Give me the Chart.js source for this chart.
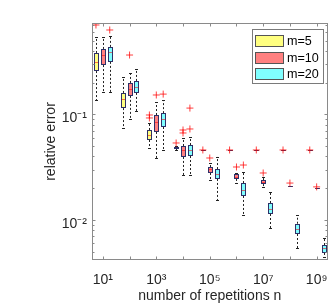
<!DOCTYPE html>
<html><head><meta charset="utf-8">
<script src="https://cdn.jsdelivr.net/npm/chart.js@4.4.1/dist/chart.umd.min.js"></script>
<style>html,body{margin:0;padding:0;background:#fff;}canvas{display:block;}</style>
</head><body>
<canvas id="c" width="332" height="307"></canvas>
<script>
// ---------- data ----------
const repetitions = [1e1, 1e2, 1e3, 1e4, 1e5, 1e6, 1e7, 1e8, 1e9];
const seriesLabels = ['m=5', 'm=10', 'm=20'];
const xTickValues = [1e1, 1e3, 1e5, 1e7, 1e9];
const xTickLabels = ['10¹', '10³', '10⁵', '10⁷', '10⁹'];
const yTickValues = [1e-2, 1e-1];
const yTickLabels = ['10⁻²', '10⁻¹'];

// box statistics per n: [lower whisker, Q1, median, Q3, upper whisker]
const m5Boxes = [
  [0.137, 0.258, 0.315, 0.383, 0.543],
  [0.0745, 0.115, 0.140, 0.160, 0.226],
  [0.0481, 0.0573, 0.0639, 0.0713, 0.0831],
  [0.0461, 0.0471, 0.0481, 0.0492, 0.0503],
  [0.0461, 0.0461, 0.0461, 0.0461, 0.0461],
  [0.0461, 0.0461, 0.0461, 0.0461, 0.0461],
  [0.0461, 0.0461, 0.0461, 0.0461, 0.0461],
  [0.0461, 0.0461, 0.0461, 0.0461, 0.0461],
  [0.0461, 0.0461, 0.0461, 0.0461, 0.0461]
];
const m10Boxes = [
  [0.163, 0.294, 0.366, 0.418, 0.543],
  [0.0906, 0.150, 0.175, 0.199, 0.247],
  [0.0387, 0.0683, 0.0849, 0.0989, 0.131],
  [0.0267, 0.0396, 0.0461, 0.0503, 0.0599],
  [0.0239, 0.0279, 0.0304, 0.0318, 0.0347],
  [0.0224, 0.0245, 0.0256, 0.0273, 0.0279],
  [0.0206, 0.0219, 0.0229, 0.0239, 0.0256],
  [0.0210, 0.0210, 0.0210, 0.0210, 0.0210],
  [0.0203, 0.0203, 0.0203, 0.0203, 0.0203]
];
const m20Boxes = [
  [0.163, 0.315, 0.391, 0.437, 0.555],
  [0.108, 0.160, 0.183, 0.208, 0.270],
  [0.0461, 0.0761, 0.0906, 0.103, 0.137],
  [0.0267, 0.0404, 0.0461, 0.0514, 0.0612],
  [0.0155, 0.0245, 0.0273, 0.0304, 0.0396],
  [0.01115, 0.0169, 0.0193, 0.0224, 0.0285],
  [0.0084, 0.0114, 0.0127, 0.0145, 0.0184],
  [0.00543, 0.00737, 0.00822, 0.00922, 0.01115],
  [0.00446, 0.00487, 0.00543, 0.00579, 0.00675]
];
// outliers per n
const m5Outliers = [[0.705], [], [0.0989, 0.0927], [0.0537], [0.0461], [0.0461], [0.0461], [0.0461], [0.0461]];
const m10Outliers = [[], [0.366], [0.153], [0.0713, 0.0668], [0.0387], [0.0318], [0.0279], [0.0224], [0.0206]];
const m20Outliers = [[0.632], [], [0.156], [0.115, 0.0729], [], [0.0332], [], [], []];

// ---------- styling ----------
const allBoxes = [m5Boxes, m10Boxes, m20Boxes];
const allOutliers = [m5Outliers, m10Outliers, m20Outliers];
const fills = ['#ffff80', '#ff8080', '#80ffff'];
const groupShift = [-0.258, 0, 0.258]; // horizontal offset of each series, in decades
const FONT = "'Liberation Sans', Arial, Helvetica, sans-serif";
const TXT = '#262626';
const AXIS = '#8a8a8a';

const shiftX = (n, s) => n * Math.pow(10, groupShift[s]);

const datasets = allOutliers.map((outl, s) => ({
  label: seriesLabels[s],
  data: outl.flatMap((vals, i) => vals.map(v => ({ x: shiftX(repetitions[i], s), y: v }))),
  pointStyle: 'cross',
  pointRadius: 3.5,
  pointHoverRadius: 3.5,
  borderColor: 'rgba(255,0,0,0.75)',
  backgroundColor: 'rgba(0,0,0,0)',
  borderWidth: 1,
  showLine: false
}));

const boxPlugin = {
  id: 'boxes',
  beforeDatasetsDraw(chart) {
    const { ctx, chartArea: a, scales: { x, y } } = chart;
    ctx.save();
    ctx.beginPath(); ctx.rect(a.left, a.top, a.right - a.left, a.bottom - a.top); ctx.clip();
    allBoxes.forEach((boxes, s) => {
      boxes.forEach((b, i) => {
        const pc = Math.round(x.getPixelForValue(shiftX(repetitions[i], s)));
        const [lo, q1, med, q3, hi] = b.map(v => y.getPixelForValue(v));
        const cx = pc + 0.5;
        ctx.lineWidth = 1;
        // whiskers
        ctx.strokeStyle = '#222';
        ctx.setLineDash([2, 2]);
        ctx.beginPath();
        ctx.moveTo(cx, q3); ctx.lineTo(cx, hi);
        ctx.moveTo(cx, q1); ctx.lineTo(cx, lo);
        ctx.stroke();
        ctx.setLineDash([]);
        ctx.beginPath();
        ctx.moveTo(pc - 1, Math.round(hi) + 0.5); ctx.lineTo(pc + 2, Math.round(hi) + 0.5);
        ctx.moveTo(pc - 1, Math.round(lo) + 0.5); ctx.lineTo(pc + 2, Math.round(lo) + 0.5);
        ctx.stroke();
        // box
        const top = Math.round(q3), bot = Math.round(q1);
        ctx.fillStyle = fills[s];
        ctx.fillRect(pc - 2, top, 5, Math.max(bot - top, 1));
        // median
        ctx.strokeStyle = 'rgba(255,0,0,0.55)';
        ctx.beginPath();
        ctx.moveTo(pc - 2, Math.round(med) + 0.5); ctx.lineTo(pc + 3, Math.round(med) + 0.5);
        ctx.stroke();
        // outline
        ctx.strokeStyle = '#2e3068';
        ctx.strokeRect(pc - 1.5, top + 0.5, 4, Math.max(bot - top - 1, 0));
      });
    });
    ctx.restore();
  },
  afterDraw(chart) {
    const { ctx, chartArea: a, scales: { x, y } } = chart;
    ctx.save();
    ctx.strokeStyle = AXIS;
    ctx.lineWidth = 1;
    const L = Math.floor(a.left) + 0.5, R = Math.ceil(a.right) - 0.5;
    const T = Math.floor(a.top) + 0.5, B = Math.ceil(a.bottom) - 0.5;
    ctx.strokeRect(L, T, R - L, B - T);
    ctx.beginPath();
    // x ticks at every decade
    for (let e = 0; e <= 10; e++) {
      const v = Math.pow(10, e);
      if (v < x.min || v > x.max) continue;
      const px = Math.round(x.getPixelForValue(v)) + 0.5;
      ctx.moveTo(px, B); ctx.lineTo(px, B - 3);
      ctx.moveTo(px, T); ctx.lineTo(px, T + 3);
    }
    // y ticks (major + minor)
    for (let e = -3; e <= 0; e++) {
      for (let k = 1; k <= 9; k++) {
        const v = k * Math.pow(10, e);
        if (v < y.min || v > y.max) continue;
        const py = Math.round(y.getPixelForValue(v)) + 0.5;
        const len = k === 1 ? 3 : 2;
        ctx.moveTo(L, py); ctx.lineTo(L + len, py);
        ctx.moveTo(R, py); ctx.lineTo(R - len, py);
      }
    }
    ctx.stroke();
    // legend
    const lg = { x: 252.5, y: 29.5, w: 71, h: 54 };
    ctx.fillStyle = '#fff';
    ctx.fillRect(lg.x, lg.y, lg.w, lg.h);
    ctx.strokeStyle = '#7a7a7a';
    ctx.strokeRect(lg.x, lg.y, lg.w, lg.h);
    const rows = [35, 52, 68];
    ctx.font = '12.6px ' + FONT;
    ctx.textBaseline = 'middle';
    ctx.textAlign = 'left';
    seriesLabels.forEach((lab, s) => {
      ctx.fillStyle = fills[s];
      ctx.fillRect(255, rows[s], 29, 12);
      ctx.strokeStyle = '#555';
      ctx.strokeRect(255.5, rows[s] + 0.5, 28, 11);
      ctx.fillStyle = '#000';
      ctx.fillText(lab, 287, rows[s] + 6.5);
    });
    ctx.restore();
  }
};

new Chart(document.getElementById('c'), {
  type: 'scatter',
  data: { datasets },
  options: {
    responsive: false,
    animation: false,
    devicePixelRatio: 1,
    layout: { padding: { left: 0, right: 1, top: 23, bottom: 0 } },
    plugins: { legend: { display: false }, tooltip: { enabled: false } },
    scales: {
      x: {
        type: 'logarithmic',
        position: 'bottom',
        bounds: 'data',
        min: Math.pow(10, 0.594),
        max: Math.pow(10, 9.406),
        afterBuildTicks: s => { s.ticks = xTickValues.map(v => ({ value: v })); },
        afterFit: s => { s.height = 47; s.paddingLeft = 0; s.paddingRight = 0; },
        grid: { display: false, drawTicks: true, tickLength: 11 },
        border: { display: false },
        ticks: {
          autoSkip: false, maxRotation: 0, minRotation: 0, padding: 1,
          color: TXT, font: { family: FONT, size: 14 },
          callback: (v, i) => xTickLabels[i]
        },
        title: {
          display: true, text: 'number of repetitions n', color: TXT,
          font: { family: FONT, size: 14 }, padding: { top: 0, bottom: 2 }
        }
      },
      y: {
        type: 'logarithmic',
        position: 'left',
        bounds: 'data',
        min: Math.pow(10, -2.379),
        max: Math.pow(10, -0.133),
        afterBuildTicks: s => { s.ticks = yTickValues.map(v => ({ value: v })); },
        afterFit: s => { s.width = 92; s.paddingTop = 0; s.paddingBottom = 0; },
        grid: { display: false, drawTicks: false },
        border: { display: false },
        ticks: {
          padding: 5, labelOffset: 4,
          color: TXT, font: { family: FONT, size: 14 },
          callback: (v, i) => yTickLabels[i]
        },
        title: {
          display: true, text: 'relative error', color: TXT,
          font: { family: FONT, size: 14 }, padding: { top: 42.6, bottom: 0 }
        }
      }
    }
  },
  plugins: [boxPlugin]
});
</script>
</body></html>
